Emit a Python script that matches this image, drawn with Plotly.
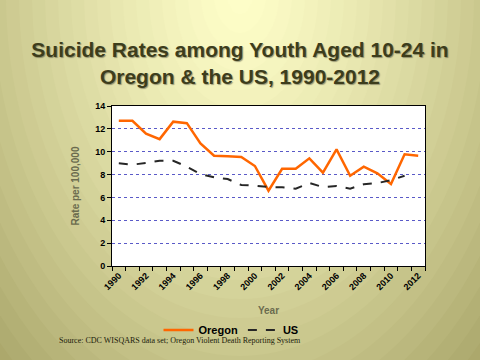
import plotly.graph_objects as go

years = list(range(1990, 2013))
oregon = [12.71, 12.70, 11.58, 11.10, 12.63, 12.50, 10.73, 9.65, 9.60, 9.54, 8.75,
          6.59, 8.51, 8.51, 9.42, 8.17, 10.20, 7.90, 8.69, 8.11, 7.17, 9.77, 9.65]
us_years = list(range(1990, 2012))
us = [8.98, 8.87, 9.01, 9.21, 9.21, 8.69, 8.05, 7.76, 7.61, 7.09, 7.03,
      6.91, 6.88, 6.77, 7.26, 6.91, 7.00, 6.77, 7.15, 7.26, 7.50, 7.90]
tick_years = list(range(1990, 2013, 2))

W, H = 480, 360
L, R, T, B = 112, 55, 106, 94
pw, ph = W - L - R, H - T - B

def px2paper(x, y):
    return (x - L) / pw, (H - B - y) / ph

fig = go.Figure()
fig.add_trace(go.Scatter(x=years, y=oregon, name="Oregon", mode="lines",
                         line=dict(color="#ff6600", width=2.5)))
fig.add_trace(go.Scatter(x=us_years, y=us, name="US", mode="lines",
                         line=dict(color="#262626", width=2, dash="dash")))

# background radial gradient
shapes = []
c0 = (255, 255, 202)
c1 = (168, 164, 104)
cx, cy = 240, -5
a, b = 260, 380
N = 30
tmax = 1.5
for i in range(N, 0, -1):
    t = tmax * i / N
    f = min(1.0, (t / 1.4) ** 1.3)
    col = tuple(int(c0[k] + (c1[k] - c0[k]) * f) for k in range(3))
    x0, y0 = px2paper(cx - a * t, cy + b * t)
    x1, y1 = px2paper(cx + a * t, cy - b * t)
    shapes.append(dict(type="circle", xref="paper", yref="paper", x0=x0, x1=x1,
                       y0=y0, y1=y1, fillcolor="rgb(%d,%d,%d)" % col,
                       line=dict(width=0), layer="below"))
shapes.append(dict(type="rect", xref="paper", yref="paper", x0=0, x1=1, y0=0, y1=1,
                   fillcolor="white", line=dict(width=0), layer="below"))

fig.update_layout(
    width=W, height=H,
    margin=dict(l=L, r=R, t=T, b=B, autoexpand=False),
    paper_bgcolor="rgb(200,196,140)",
    plot_bgcolor="white",
    shapes=shapes,
    title=dict(text="Suicide Rates among Youth Aged 10-24 in<br>Oregon &amp; the US, 1990-2012",
               x=0.5, xanchor="center", xref="container", y=1 - 57 / H, yanchor="top",
               font=dict(family="Liberation Sans, Arial", size=21, color="#3d3d1c",
                         weight="bold", shadow="1px 1px 1px rgba(0,0,0,0.35)")),
    xaxis=dict(range=[1989.5, 2012.5], tickvals=tick_years, ticktext=[str(y) for y in tick_years],
               tickangle=-45, ticks="", showgrid=False, zeroline=False,
               showline=True, linecolor="black", linewidth=1, mirror=True,
               minor=dict(tick0=1989.5, dtick=1, ticks="outside", ticklen=4,
                          tickcolor="black", showgrid=False),
               tickfont=dict(family="Liberation Sans, Arial", size=9, color="black", weight="bold"),
               title=dict(text="Year", standoff=15,
                          font=dict(family="Liberation Sans, Arial", size=10, color="#6b6b4e", weight="bold"))),
    yaxis=dict(range=[0, 14], dtick=2, ticks="outside", ticklen=4, tickcolor="black",
               showgrid=True, gridcolor="#5a5ac8", griddash="dot", gridwidth=1,
               zeroline=False, showline=True, linecolor="black", linewidth=1, mirror=True,
               tickfont=dict(family="Liberation Sans, Arial", size=9, color="black", weight="bold"),
               title=dict(text="Rate per 100,000", standoff=13,
                          font=dict(family="Liberation Sans, Arial", size=10, color="#6b6b4e", weight="bold"))),
    legend=dict(orientation="h", x=(231 - L) / pw, xanchor="center", y=(H - B - 330) / ph,
                yanchor="middle", bgcolor="rgba(0,0,0,0)",
                font=dict(family="Liberation Sans, Arial", size=11, color="black", weight="bold"),
                itemwidth=30, tracegroupgap=0),
    showlegend=True,
    annotations=[dict(text="Source: CDC WISQARS data set; Oregon Violent Death Reporting System",
                      xref="paper", yref="paper", x=(57 - L) / pw, xanchor="left",
                      y=(H - B - 340) / ph, yanchor="middle", showarrow=False,
                      font=dict(family="Liberation Serif, Times New Roman", size=8, color="#1a1a0a"))],
)

fig.write_html("out.html", config={"displayModeBar": False},
               post_script="document.body.style.margin='0';")
